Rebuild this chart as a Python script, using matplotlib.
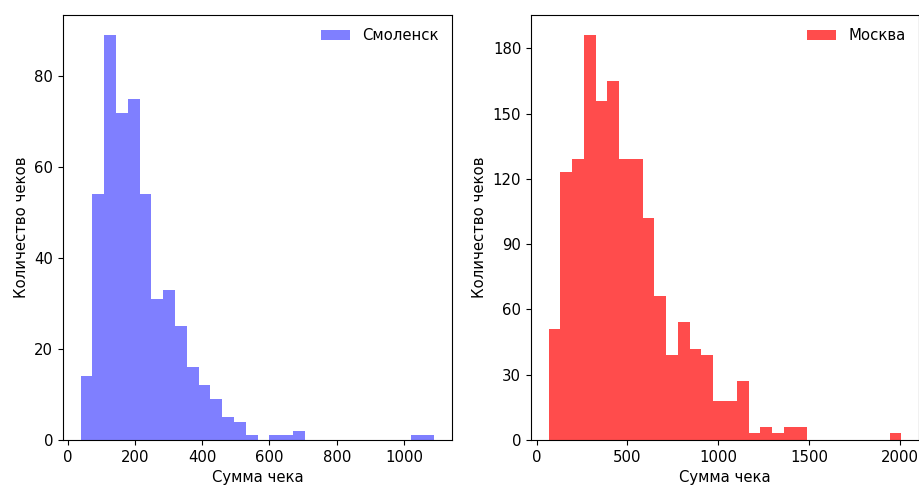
import numpy as np
import matplotlib
matplotlib.use('Agg')
import matplotlib.pyplot as plt

plt.rcParams['font.size'] = 10.7

# Смоленск: 30 bins
smolensk_edges = np.linspace(39, 1090, 31)
smolensk_counts = [14, 54, 89, 72, 75, 54, 31, 33, 25, 16,
                   12, 9, 5, 4, 1, 0, 1, 1, 2, 0,
                   0, 0, 0, 0, 0, 0, 0, 0, 1, 1]

# Москва: 30 bins
moscow_edges = np.linspace(66, 2009, 31)
moscow_counts = [51, 123, 129, 186, 156, 165, 129, 129, 102, 66,
                 39, 54, 42, 39, 18, 18, 27, 3, 6, 3,
                 6, 6, 0, 0, 0, 0, 0, 0, 0, 3]

fig = plt.figure(figsize=(9.2, 4.88), dpi=100)
ax1 = fig.add_axes([63/920, 48/488, 389/920, 425/488])
ax2 = fig.add_axes([531/920, 48/488, 388/920, 425/488])

ax1.hist(smolensk_edges[:-1], bins=smolensk_edges, weights=smolensk_counts,
         color='blue', alpha=0.5, label='Смоленск')
ax1.set_xlabel('Сумма чека')
ax1.set_ylabel('Количество чеков')
ax1.legend(frameon=False)

ax2.hist(moscow_edges[:-1], bins=moscow_edges, weights=moscow_counts,
         color='red', alpha=0.7, label='Москва')
ax2.set_xlabel('Сумма чека')
ax2.set_ylabel('Количество чеков')
ax2.set_xticks(np.arange(0, 2001, 500))
ax2.set_yticks(np.arange(0, 181, 30))
ax2.legend(frameon=False)

fig.savefig('out.png', dpi=100)
